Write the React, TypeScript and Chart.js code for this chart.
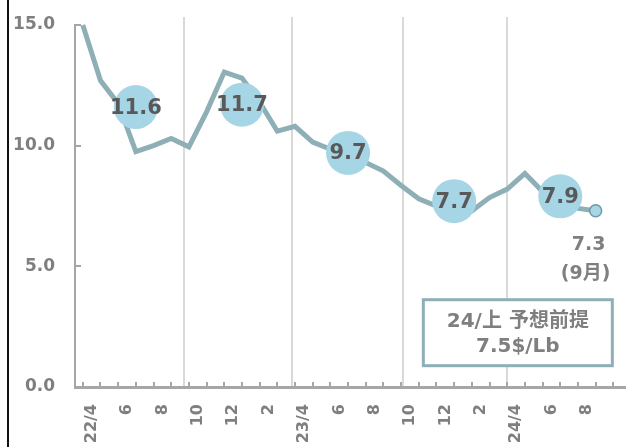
import { useEffect, useRef } from "react";
import { Chart, registerables } from "chart.js";

Chart.register(...registerables);

// ---- data ----
const monthLabels = [
  "22/4", "", "6", "", "8", "", "10", "", "12", "", "2", "",
  "23/4", "", "6", "", "8", "", "10", "", "12", "", "2", "",
  "24/4", "", "6", "", "8", "",
];
const priceValues = [
  15.0, 12.7, 11.75, 9.75, 10.0, 10.3, 9.95, 11.4, 13.05, 12.8, 11.8, 10.6,
  10.8, 10.15, 9.85, 9.55, 9.3, 8.95, 8.35, 7.8, 7.5, 7.4, 7.3, 7.85,
  8.2, 8.85, 8.1, 7.6, 7.4, 7.3,
];
const halfYearIndex = [3, 9, 15, 21, 27];
const halfYearAverages = [11.6, 11.7, 9.7, 7.7, 7.9];
const yTickValues = [0, 5, 10, 15];
const dividerPositions = [5.7, 11.85, 18.1, 24.0];
const latestLabel = ["7.3", "(9月)"];
const premiseLines = ["24/上 予想前提", "7.5$/Lb"];
const premiseAnchor = { x: 24.6, y: 2.25 };

const FONT = "'DejaVu Sans', 'Noto Sans CJK JP', sans-serif";
const LINE_COLOR = "#8EAFB6";
const BUBBLE_COLOR = "#A6D6E6";
const AXIS_COLOR = "#A6A6A6";
const LABEL_GRAY = "#7F7F7F";

const decorPlugin = {
  id: "decor",
  beforeDraw(chart: any) {
    const ctx = chart.ctx;
    ctx.save();
    ctx.fillStyle = "#ffffff";
    ctx.fillRect(0, 0, chart.width, chart.height);
    ctx.fillStyle = "#111111";
    ctx.fillRect(7, 0, 2, chart.height);
    ctx.restore();
  },
  beforeDatasetsDraw(chart: any) {
    const { ctx, chartArea } = chart;
    const x = chart.scales.x;
    const y = chart.scales.y;
    ctx.save();
    // half-year dividers
    ctx.strokeStyle = "#D9D9D9";
    ctx.lineWidth = 2;
    dividerPositions.forEach((v) => {
      const px = Math.round(x.getPixelForValue(v));
      ctx.beginPath();
      ctx.moveTo(px, chartArea.top - 8);
      ctx.lineTo(px, chartArea.bottom - 1);
      ctx.stroke();
    });
    // inward tick marks
    ctx.strokeStyle = AXIS_COLOR;
    ctx.lineWidth = 2;
    for (let i = Math.ceil(x.min); i <= Math.floor(x.max); i++) {
      const px = Math.round(x.getPixelForValue(i));
      ctx.beginPath();
      ctx.moveTo(px, chartArea.bottom - 5);
      ctx.lineTo(px, chartArea.bottom);
      ctx.stroke();
    }
    yTickValues.forEach((v) => {
      const py = Math.round(y.getPixelForValue(v));
      ctx.beginPath();
      ctx.moveTo(chartArea.left, py);
      ctx.lineTo(chartArea.left + 6, py);
      ctx.stroke();
    });
    ctx.restore();
  },
  afterDatasetsDraw(chart: any) {
    const ctx = chart.ctx;
    const x = chart.scales.x;
    const y = chart.scales.y;
    ctx.save();
    // bubble labels
    const bubbleMeta = chart.getDatasetMeta(1);
    ctx.font = `bold 21px ${FONT}`;
    ctx.fillStyle = "#595959";
    ctx.textAlign = "center";
    ctx.textBaseline = "middle";
    bubbleMeta.data.forEach((el: any, i: number) => {
      ctx.fillText(halfYearAverages[i].toFixed(1), el.x, el.y + 1);
    });
    // latest value label
    const lineMeta = chart.getDatasetMeta(0);
    const last = lineMeta.data[lineMeta.data.length - 1];
    ctx.font = `bold 19px ${FONT}`;
    ctx.fillStyle = LABEL_GRAY;
    ctx.fillText(latestLabel[0], last.x - 7, last.y + 34);
    ctx.fillText(latestLabel[1], last.x - 10, last.y + 63);
    // premise box
    const cx = x.getPixelForValue(premiseAnchor.x);
    const cy = y.getPixelForValue(premiseAnchor.y);
    const w = 189;
    const h = 66;
    ctx.fillStyle = "#ffffff";
    ctx.fillRect(cx - w / 2, cy - h / 2, w, h);
    ctx.strokeStyle = LINE_COLOR;
    ctx.lineWidth = 3;
    ctx.strokeRect(cx - w / 2, cy - h / 2, w, h);
    ctx.font = `bold 20px ${FONT}`;
    ctx.fillStyle = LABEL_GRAY;
    ctx.fillText(premiseLines[0], cx, cy - 11);
    ctx.fillText(premiseLines[1], cx, cy + 14);
    ctx.restore();
  },
};

export default function App() {
  const canvasRef = useRef<HTMLCanvasElement | null>(null);

  useEffect(() => {
    document.body.style.margin = "0";
    const canvas = canvasRef.current;
    if (!canvas) return;

    const chart = new Chart(canvas, {
      type: "line",
      data: {
        datasets: [
          {
            label: "price",
            data: priceValues.map((v, i) => ({ x: i, y: v })),
            borderColor: LINE_COLOR,
            borderWidth: 5,
            tension: 0,
            fill: false,
            clip: 10,
            pointRadius: priceValues.map((_, i) => (i === priceValues.length - 1 ? 6 : 0)),
            pointBackgroundColor: BUBBLE_COLOR,
            pointBorderColor: "#6D99A4",
            pointBorderWidth: 1.5,
            order: 1,
          } as any,
          {
            label: "avg",
            data: halfYearIndex.map((idx, i) => ({ x: idx, y: halfYearAverages[i] })),
            showLine: false,
            pointRadius: 22,
            pointBackgroundColor: BUBBLE_COLOR,
            pointBorderWidth: 0,
            borderWidth: 0,
            clip: false,
            order: 0,
          } as any,
        ],
      },
      options: {
        responsive: false,
        animation: false,
        devicePixelRatio: 1,
        layout: { autoPadding: false, padding: { top: 25, right: 3, left: 0, bottom: 0 } },
        plugins: {
          legend: { display: false },
          tooltip: { enabled: false },
        },
        events: [],
        scales: {
          x: {
            type: "linear",
            min: -0.44,
            max: 30.66,
            grid: { display: false, drawTicks: false },
            border: { display: true, color: AXIS_COLOR, width: 3 },
            afterBuildTicks: (scale: any) => {
              scale.ticks = monthLabels.map((_, i) => ({ value: i }));
            },
            afterFit: (scale: any) => {
              scale.height = 60;
              scale.paddingLeft = 0;
              scale.paddingRight = 0;
            },
            ticks: {
              autoSkip: false,
              maxRotation: 90,
              minRotation: 90,
              padding: 17,
              labelOffset: 9,
              color: LABEL_GRAY,
              font: { family: FONT, weight: "bold", size: 16 },
              callback: (value: any) => monthLabels[Math.round(Number(value))] ?? "",
            },
          },
          y: {
            min: 0,
            max: 15,
            grid: { display: false, drawTicks: false },
            border: { display: true, color: AXIS_COLOR, width: 2 },
            afterBuildTicks: (scale: any) => {
              scale.ticks = yTickValues.map((v) => ({ value: v }));
            },
            afterFit: (scale: any) => {
              scale.width = 75;
              scale.paddingTop = 0;
              scale.paddingBottom = 0;
            },
            ticks: {
              padding: 20,
              color: LABEL_GRAY,
              font: { family: FONT, weight: "bold", size: 17 },
              callback: (value: any) => Number(value).toFixed(1),
            },
          },
        },
      } as any,
      plugins: [decorPlugin],
    });

    return () => chart.destroy();
  }, []);

  return <canvas ref={canvasRef} width={628} height={447} style={{ display: "block" }} />;
}
